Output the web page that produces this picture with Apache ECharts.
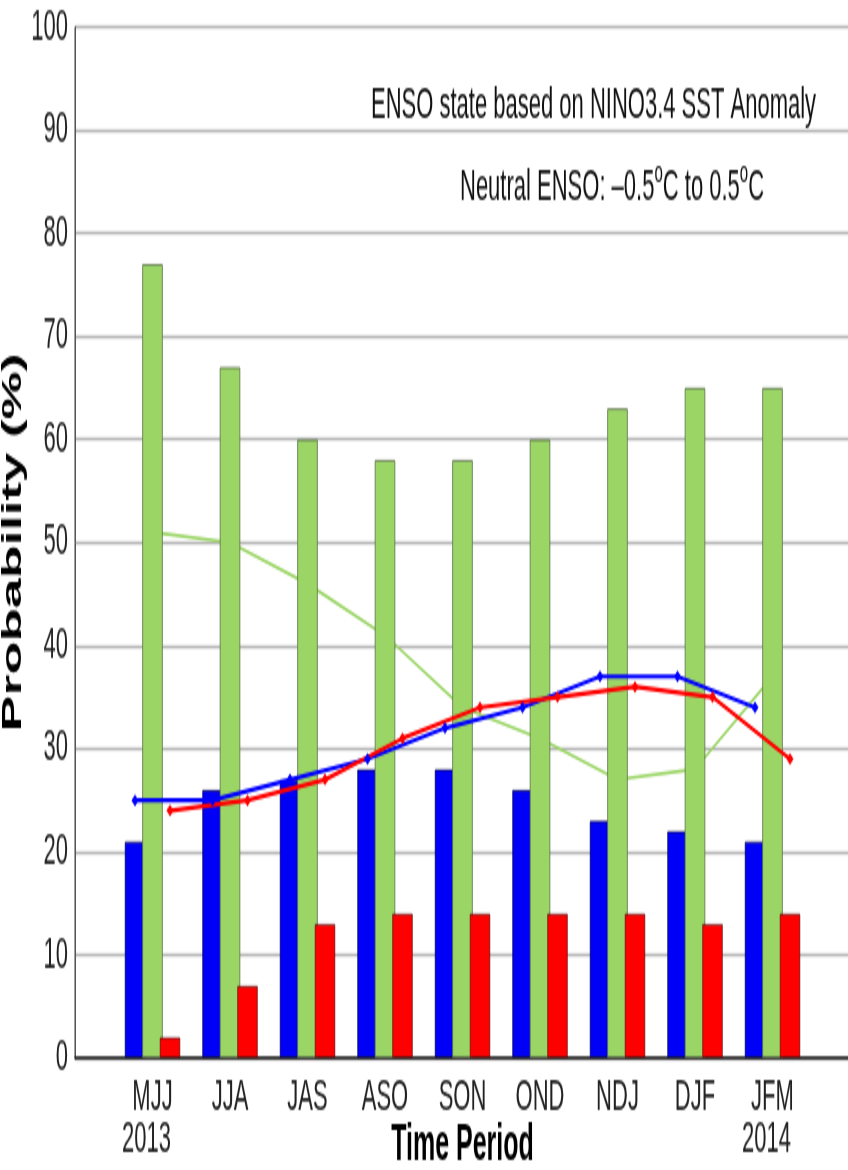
<!DOCTYPE html>
<html>
<head>
<meta charset="utf-8">
<script src="https://cdn.jsdelivr.net/npm/echarts@6/dist/echarts.min.js"></script>
<style>
  html, body { margin: 0; padding: 0; background: #fff; overflow: hidden; }
  #wrap { width: 848px; height: 1170px; overflow: hidden; }
  /* the reference picture is a vertically stretched chart */
  #chart { width: 848px; height: 585px; transform: scaleY(2); transform-origin: 0 0; }
</style>
</head>
<body>
<div id="wrap"><div id="chart"></div></div>
<script>
// ---- data ----
const categories = ['MJJ', 'JJA', 'JAS', 'ASO', 'SON', 'OND', 'NDJ', 'DJF', 'JFM'];
const yearLabels = ['2013', '', '', '', '', '', '', '', '2014'];
const laNinaBars  = [21, 26, 27, 28, 28, 26, 23, 22, 21];
const neutralBars = [77, 67, 60, 58, 58, 60, 63, 65, 65];
const elNinoBars  = [2, 7, 13, 14, 14, 14, 14, 13, 14];
const laNinaLine  = [25, 25, 27, 29, 32, 34, 37, 37, 34];
const elNinoLine  = [24, 25, 27, 31, 34, 35, 36, 35, 29];
const neutralLine = [51, 50, 46, 41, 34, 31, 27, 28, 37];
const yMin = 0, yMax = 100, yStep = 10;

// ---- layout constants ----
const BAR_W = 20.5;
const BAR_GAP = -0.146;
const SHIFT = BAR_W * (1 + BAR_GAP);   // distance between neighbouring bar centres
const GL = 75, GR = -2, GT = 13.5, GB = 56;
const NARROW = "'Liberation Sans Narrow', 'Liberation Sans', Arial, sans-serif";
const SANS = "'Liberation Sans', Arial, sans-serif";

const padCats = [''].concat(categories, ['']);
const pad = a => ['-'].concat(a, ['-']);

const chart = echarts.init(document.getElementById('chart'));

function gridAt(left, right, extra) {
  return Object.assign({ left: left, right: right, top: GT, bottom: GB, containLabel: false, outerBoundsMode: 'none' }, extra || {});
}
function hiddenX(i) {
  return { type: 'category', gridIndex: i, data: padCats, boundaryGap: false, show: false };
}
function hiddenY(i) {
  return { type: 'value', gridIndex: i, min: yMin, max: yMax, interval: yStep, show: false, splitLine: { show: false } };
}

const option = {
  animation: false,
  backgroundColor: '#fff',
  title: [
    {
      text: 'ENSO state based on NINO3.4 SST Anomaly',
      left: 366, top: 37,
      textStyle: { fontFamily: SANS, fontSize: 22, fontWeight: 'normal', color: '#111' }
    },
    {
      text: 'Neutral ENSO: –0.5{s|o}C to 0.5{s|o}C',
      left: 455, top: 74,
      textStyle: {
        fontFamily: SANS, fontSize: 22, fontWeight: 'normal', color: '#111', lineHeight: 30,
        rich: { s: { fontFamily: SANS, fontSize: 15, color: '#111', verticalAlign: 'top', lineHeight: 15 } }
      }
    }
  ],
  grid: [
    gridAt(GL, GR, { show: true, borderColor: '#444', borderWidth: 1 }),
    gridAt(GL - SHIFT, GR + SHIFT),
    gridAt(GL + SHIFT, GR - SHIFT)
  ],
  xAxis: [
    {
      type: 'category', gridIndex: 0, data: padCats, boundaryGap: false,
      axisLine: { lineStyle: { color: '#222', width: 1.5 } },
      axisTick: { show: false },
      splitLine: { show: false },
      axisLabel: {
        interval: 0, margin: 9, fontFamily: NARROW, fontSize: 22, lineHeight: 21, color: '#222',
        formatter: function (v, i) {
          if (!v) return '';
          const y = yearLabels[i - 1];
          return y ? v + '\n{yr|' + y + '}' : v;
        },
        rich: { yr: { fontFamily: NARROW, fontSize: 22, lineHeight: 21, color: '#222', padding: [0, 12, 0, 0] } }
      },
      name: 'Time Period', nameLocation: 'middle', nameGap: 32, nameMoveOverlap: false,
      nameTextStyle: { fontFamily: SANS, fontSize: 25, fontWeight: 'bold', color: '#000' }
    },
    hiddenX(1), hiddenX(2)
  ],
  yAxis: [
    {
      type: 'value', gridIndex: 0, min: yMin, max: yMax, interval: yStep,
      axisLine: { show: true, lineStyle: { color: '#555', width: 1 } },
      axisTick: { show: false },
      axisLabel: { margin: 7, fontFamily: NARROW, fontSize: 22, color: '#222' },
      splitLine: { lineStyle: { color: '#b4b4b4', width: 1.3 } },
      name: 'Probability (%)', nameLocation: 'middle', nameGap: 48, nameMoveOverlap: false,
      nameTextStyle: { fontFamily: SANS, fontSize: 27, fontWeight: 'bold', color: '#000' }
    },
    hiddenY(1), hiddenY(2)
  ],
  series: [
    {
      name: 'Neutral climatology', type: 'line', xAxisIndex: 0, yAxisIndex: 0, z: 1,
      data: pad(neutralLine), showSymbol: false, symbol: 'none',
      lineStyle: { color: '#9bd566', width: 1.6 }
    },
    {
      name: 'La Niña', type: 'bar', xAxisIndex: 0, yAxisIndex: 0, z: 2,
      data: pad(laNinaBars), barWidth: BAR_W, barGap: (BAR_GAP * 100) + '%',
      itemStyle: { color: '#0000f6', borderColor: 'rgba(0,0,40,0.7)', borderWidth: 0.8 }
    },
    {
      name: 'Neutral', type: 'bar', xAxisIndex: 0, yAxisIndex: 0, z: 2,
      data: pad(neutralBars), barWidth: BAR_W, barGap: (BAR_GAP * 100) + '%',
      itemStyle: { color: '#9bd566', borderColor: '#5b7048', borderWidth: 0.8 }
    },
    {
      name: 'El Niño', type: 'bar', xAxisIndex: 0, yAxisIndex: 0, z: 2,
      data: pad(elNinoBars), barWidth: BAR_W, barGap: (BAR_GAP * 100) + '%',
      itemStyle: { color: '#ff0000', borderColor: 'rgba(60,0,0,0.7)', borderWidth: 0.8 }
    },
    {
      name: 'La Niña climatology', type: 'line', xAxisIndex: 1, yAxisIndex: 1, z: 5,
      data: pad(laNinaLine), symbol: 'diamond', symbolSize: [7, 6],
      lineStyle: { color: '#0000ff', width: 2.2 },
      itemStyle: { color: '#0000ff' }
    },
    {
      name: 'El Niño climatology', type: 'line', xAxisIndex: 2, yAxisIndex: 2, z: 5,
      data: pad(elNinoLine), symbol: 'diamond', symbolSize: [7, 6],
      lineStyle: { color: '#ff0000', width: 2.2 },
      itemStyle: { color: '#ff0000' }
    }
  ]
};
chart.setOption(option);
</script>
</body>
</html>
